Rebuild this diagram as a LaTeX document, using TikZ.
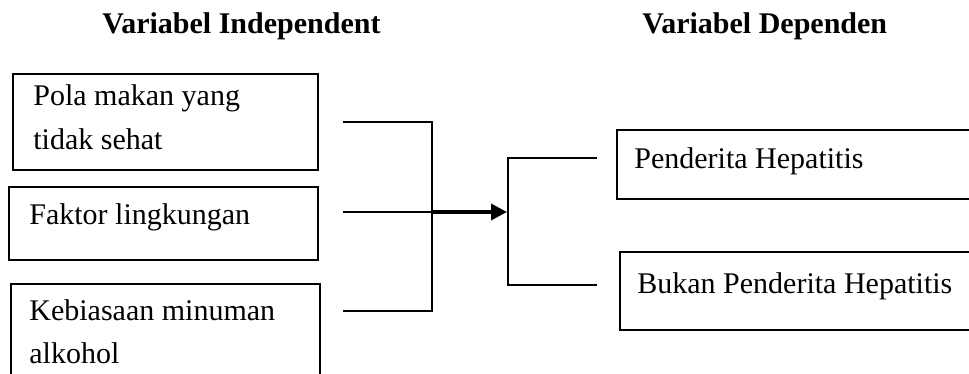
\documentclass[tikz,border=0pt]{standalone}
\usepackage{fontspec}
\setmainfont{Liberation Serif}
\usetikzlibrary{arrows.meta,positioning,calc}

\begin{document}
\begin{tikzpicture}[x=0.5pt,y=-0.5pt,
    box/.style={draw,line width=0.9pt,rectangle,anchor=north west,inner sep=0pt},
    lbl/.style={anchor=base west,inner sep=0pt,align=left,
      font=\fontsize{15}{21.5}\selectfont},
    head/.style={anchor=base west,inner sep=0pt,font=\fontsize{15}{18}\selectfont\bfseries},
    conn/.style={line width=0.9pt}]
  \useasboundingbox (0,0) rectangle (969,374);
  \clip (0,0) rectangle (969,374);

  % judul kolom
  \node[head] (hind) at (102,34) {Variabel Independent};
  \node[head] (hdep) at (642,34) {Variabel Dependen};

  % variabel independent
  \node[box,minimum width=152.5pt,minimum height=48pt] (pola) at (12,73) {};
  \node[box,minimum width=154.5pt,minimum height=36.5pt] (faktor) at (8,186) {};
  \node[box,minimum width=154.5pt,minimum height=58.5pt] (alkohol) at (10,283) {};
  % base = baris terakhir
  \node[lbl] (tpola) at (33,149) {Pola makan yang\\tidak sehat};
  \node[lbl] (tfaktor) at (29,224) {Faktor lingkungan};
  \node[lbl] (talkohol) at (29,363) {Kebiasaan minuman\\alkohol};

  % variabel dependen
  \node[box,minimum width=187pt,minimum height=34.5pt] (sakit) at (616,129) {};
  \node[box,minimum width=185.5pt,minimum height=39pt] (sehat) at (619,251) {};
  \node[lbl] (tsakit) at (634,169) {Penderita Hepatitis};
  \node[lbl] (tsehat) at (637,293) {Bukan Penderita Hepatitis};

  % garis penghubung
  \coordinate (a1) at (343,122);
  \coordinate (a2) at (343,212);
  \coordinate (a3) at (343,311);
  \coordinate (j1) at (432,122);
  \coordinate (j2) at (432,212);
  \coordinate (j3) at (432,311);
  \coordinate (tip) at (507,212);
  \coordinate (k1) at (508,158);
  \coordinate (k2) at (508,285);
  \coordinate (b1) at (597,158);
  \coordinate (b2) at (597,285);

  \draw[conn] (a1) -- (j1) -- (j3) -- (a3);
  \draw[conn] (a2) -- (j2);
  \draw[line width=1.8pt,-{Triangle[length=8pt,width=8pt]}] (j2) -- (tip);
  \draw[conn] (b1) -- (k1) -- (k2) -- (b2);
\end{tikzpicture}
\end{document}
